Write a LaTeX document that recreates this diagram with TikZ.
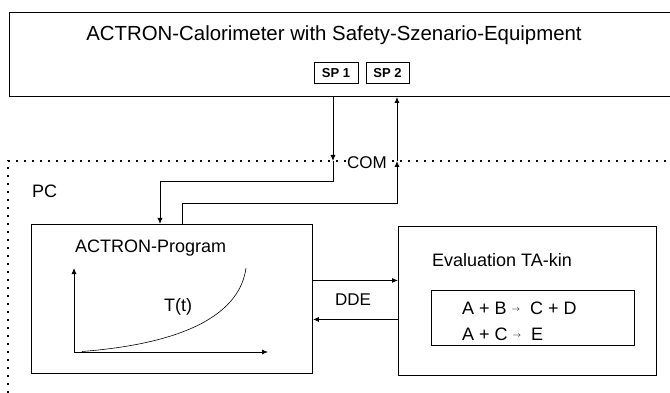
\documentclass[tikz,border=0pt]{standalone}
\usepackage{fontspec}
\setmainfont{Liberation Sans}
\usetikzlibrary{arrows.meta}
\newcommand{\smallarr}{{\fontsize{8}{8}\selectfont\raisebox{2.6pt}{$\rightarrow$}}}
\begin{document}
\begin{tikzpicture}[x=1pt,y=-1pt,
  box/.style={draw, line width=0.9pt, inner sep=0pt, anchor=north west},
  spbox/.style={draw, line width=0.9pt, inner sep=0pt, minimum height=21pt, font=\bfseries\fontsize{13}{15}\selectfont},
  arr/.style={line width=0.9pt, -{Latex[length=6pt,width=5pt]}},
  dots/.style={line width=1.1pt, dash pattern=on 1.8pt off 6.2pt},
  lbl/.style={inner sep=0pt, font=\fontsize{18}{21}\selectfont},
  slbl/.style={inner sep=0pt, font=\fontsize{17}{20}\selectfont},
]
\useasboundingbox (0,0) rectangle (670,393);
\clip (0,0) rectangle (670,393);

% top box
\node[box, minimum width=680pt, minimum height=84pt] (calo) at (9,12) {};
\node[inner sep=0pt, font=\fontsize{20.4}{23}\selectfont] (title) at (334,35) {ACTRON-Calorimeter with Safety-Szenario-Equipment};
\node[spbox, minimum width=44pt] (sp1) at (336,73) {SP 1};
\node[spbox, minimum width=43pt] (sp2) at (387.5,73) {SP 2};

% PC region
\draw[dots] (8,393) -- (8,161) -- (680,161);
\node[lbl, anchor=west] (pc) at (32,191) {PC};
\node[slbl, fill=white, inner sep=1pt] (com) at (367,163) {COM};

% boxes
\node[box, minimum width=281pt, minimum height=149pt] (prog) at (31,224) {};
\node[box, minimum width=258pt, minimum height=149pt] (eval) at (398,226) {};
\node[box, minimum width=203pt, minimum height=55pt] (react) at (431,290) {};

\node[lbl, anchor=west] (progt) at (75,248) {ACTRON-Program};
\node[lbl, anchor=west] (evalt) at (432,260) {Evaluation TA-kin};
\node[lbl, anchor=west] (r1) at (462,308) {A + B \smallarr\ \ C + D};
\node[lbl, anchor=west] (r2) at (462,334) {A + C \smallarr\ \ E};

% COM connections
\coordinate (cd) at (333,161);
\coordinate (cu) at (397,161);
\coordinate (pin) at ([xshift=129pt]prog.north west);
\coordinate (pout) at ([xshift=151pt]prog.north west);
\draw[arr] (calo.south -| cd) -- (cd);
\draw[arr] (cd) -- ++(0,20) -| (pin);
\draw[arr] (pout) -- ++(0,-21) -| (cu);
\draw[arr] (cu) -- (calo.south -| cu);

% DDE
\coordinate (dd1) at ([yshift=18.5pt]prog.east);
\coordinate (dd2) at ([yshift=-20.5pt]prog.east);
\draw[arr] (dd1) -- (dd1 -| eval.west);
\draw[arr] (dd2 -| eval.west) -- (dd2);
\node[slbl] (dde) at (353,300) {DDE};

% plot
\coordinate (o) at (74,352);
\coordinate (ya) at (74,268);
\coordinate (xa) at (268,352);
\draw[arr] (o) -- (ya);
\draw[arr] (o) -- (xa);
\draw[line width=0.6pt] (82,351.5) .. controls (190,343) and (240,312) .. (246,268);
\node[lbl] (tt) at (178,307) {T(t)};
\end{tikzpicture}
\end{document}
